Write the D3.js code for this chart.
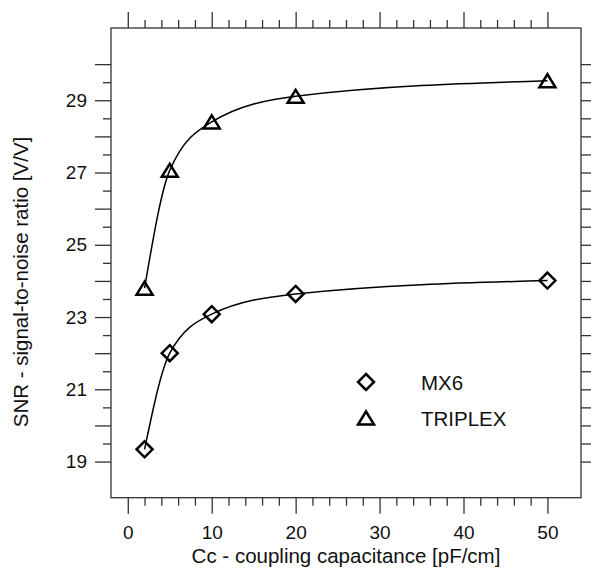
<!DOCTYPE html>
<html>
<head>
<meta charset="utf-8">
<script src="https://cdn.jsdelivr.net/npm/d3@7"></script>
<style>
  body { margin: 0; background: #fff; }
  svg { display: block; font-family: "Liberation Sans", Arial, sans-serif; }
</style>
</head>
<body>
<div id="chart"></div>
<script>
// Data
var capValues = [2, 5, 10, 20, 50];
var mx6Values = [19.34, 22.0, 23.08, 23.64, 24.01];
var triplexValues = [23.80, 27.06, 28.40, 29.11, 29.54];
var seriesNames = ["MX6", "TRIPLEX"];

// Tick values
var xMajorTicks = [0, 10, 20, 30, 40, 50];
var xMinorTicks = [2, 4, 6, 8, 12, 14, 16, 18, 22, 24, 26, 28, 32, 34, 36, 38, 42, 44, 46, 48];
var yMajorTicks = [19, 20, 21, 22, 23, 24, 25, 26, 27, 28, 29, 30];
var yMinorTicks = [19.5, 20.5, 21.5, 22.5, 23.5, 24.5, 25.5, 26.5, 27.5, 28.5, 29.5];
var yLabelTicks = [19, 21, 23, 25, 27, 29];

(function() {
    var W = 591, H = 570;
    var plot = {left: 111, right: 581, top: 28, bottom: 497.7};
    var tickFont = "19px", titleFont = "20.5px";

    var x = d3.scaleLinear().domain([-2, 54]).range([plot.left, plot.right]);
    var y = d3.scaleLinear().domain([18, 31]).range([plot.bottom, plot.top]);

    var svg = d3.select("#chart").append("svg")
        .attr("width", W)
        .attr("height", H);

    var axisColor = "#333";

    function styleAxis(g) {
        g.select(".domain").remove();
        g.selectAll(".tick line").attr("stroke", axisColor).attr("stroke-width", 1.3);
        g.selectAll(".tick text").attr("fill", "#111").attr("font-size", tickFont)
            .attr("font-family", "Liberation Sans, Arial, sans-serif");
    }

    // Left axis
    svg.append("g").attr("transform", "translate(" + plot.left + ",0)")
        .call(d3.axisLeft(y).tickValues(yMinorTicks).tickSize(8).tickFormat(""))
        .call(styleAxis);
    svg.append("g").attr("transform", "translate(" + plot.left + ",0)")
        .call(d3.axisLeft(y).tickValues(yMajorTicks).tickSize(16).tickPadding(8)
            .tickFormat(function(d) { return yLabelTicks.indexOf(d) >= 0 ? d : ""; }))
        .call(styleAxis);

    // Right axis
    svg.append("g").attr("transform", "translate(" + plot.right + ",0)")
        .call(d3.axisRight(y).tickValues(yMinorTicks).tickSize(10).tickFormat(""))
        .call(styleAxis);
    svg.append("g").attr("transform", "translate(" + plot.right + ",0)")
        .call(d3.axisRight(y).tickValues(yMajorTicks).tickSize(16).tickFormat(""))
        .call(styleAxis);

    // Bottom axis
    svg.append("g").attr("transform", "translate(0," + plot.bottom + ")")
        .call(d3.axisBottom(x).tickValues(xMinorTicks).tickSize(8).tickFormat(""))
        .call(styleAxis);
    svg.append("g").attr("transform", "translate(0," + plot.bottom + ")")
        .call(d3.axisBottom(x).tickValues(xMajorTicks).tickSize(16).tickPadding(12))
        .call(styleAxis);

    // Top axis
    svg.append("g").attr("transform", "translate(0," + plot.top + ")")
        .call(d3.axisTop(x).tickValues(xMinorTicks).tickSize(8).tickFormat(""))
        .call(styleAxis);
    svg.append("g").attr("transform", "translate(0," + plot.top + ")")
        .call(d3.axisTop(x).tickValues(xMajorTicks).tickSize(16).tickFormat(""))
        .call(styleAxis);

    // Frame
    svg.append("rect")
        .attr("x", plot.left).attr("y", plot.top)
        .attr("width", plot.right - plot.left).attr("height", plot.bottom - plot.top)
        .attr("fill", "none").attr("stroke", axisColor).attr("stroke-width", 1.3);

    // Curves
    var line = d3.line()
        .x(function(d) { return x(d[0]); })
        .y(function(d) { return y(d[1]); })
        .curve(d3.curveMonotoneX);

    var series = [mx6Values, triplexValues].map(function(vals) {
        return vals.map(function(v, i) { return [capValues[i], v]; });
    });

    series.forEach(function(pts) {
        svg.append("path")
            .datum(pts)
            .attr("d", line)
            .attr("fill", "none")
            .attr("stroke", "#000")
            .attr("stroke-width", 1.5);
    });

    // Marker shapes
    var diamond = "M0,-8L8,0L0,8L-8,0Z";
    var triangle = "M0,-6.5L8,6.5L-8,6.5Z";
    var shapes = [diamond, triangle];

    series.forEach(function(pts, k) {
        svg.append("g").selectAll("path")
            .data(pts)
            .join("path")
            .attr("transform", function(d) { return "translate(" + x(d[0]) + "," + y(d[1]) + ")"; })
            .attr("d", shapes[k])
            .attr("fill", "none")
            .attr("stroke", "#000")
            .attr("stroke-width", 2.5);
    });

    // Legend
    var legendY = [382, 418];
    seriesNames.forEach(function(name, k) {
        svg.append("path")
            .attr("transform", "translate(366," + legendY[k] + ")")
            .attr("d", shapes[k])
            .attr("fill", "none")
            .attr("stroke", "#000")
            .attr("stroke-width", 2.5);
        svg.append("text")
            .attr("x", 421)
            .attr("y", legendY[k] + 7.5)
            .attr("font-size", titleFont)
            .attr("fill", "#111")
            .text(name);
    });

    // Axis titles
    svg.append("text")
        .attr("x", 346)
        .attr("y", 563)
        .attr("text-anchor", "middle")
        .attr("font-size", titleFont)
        .attr("fill", "#111")
        .text("Cc - coupling capacitance [pF/cm]");

    svg.append("text")
        .attr("transform", "translate(28,282) rotate(-90)")
        .attr("text-anchor", "middle")
        .attr("font-size", titleFont)
        .attr("fill", "#111")
        .text("SNR - signal-to-noise ratio [V/V]");
})();
</script>
</body>
</html>
